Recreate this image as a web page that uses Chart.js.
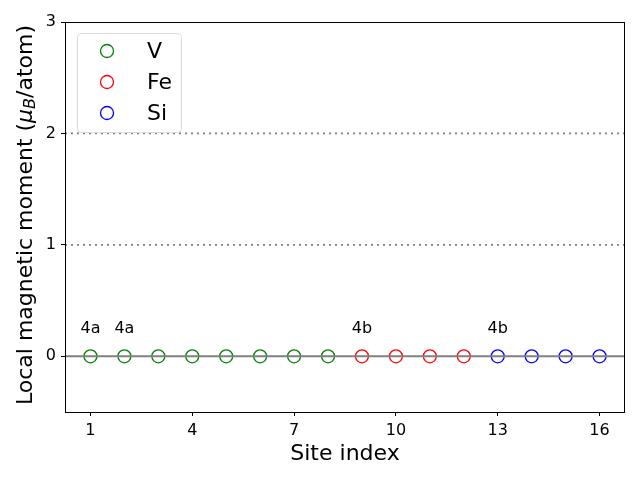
<!DOCTYPE html>
<html>
<head>
<meta charset="utf-8">
<script src="https://cdn.jsdelivr.net/npm/chart.js@4/dist/chart.umd.min.js"></script>
<style>
  html, body { margin: 0; padding: 0; background: #fff; }
  #wrap { width: 640px; height: 480px; }
</style>
</head>
<body>
<div id="wrap"><canvas id="momentChart" width="640" height="480"></canvas></div>
<script>
// data
const vSites = [1, 2, 3, 4, 5, 6, 7, 8];
const vMoments = [0, 0, 0, 0, 0, 0, 0, 0];
const feSites = [9, 10, 11, 12];
const feMoments = [0, 0, 0, 0];
const siSites = [13, 14, 15, 16];
const siMoments = [0, 0, 0, 0];

const xTicks = [1, 4, 7, 10, 13, 16];
const yTicks = [0, 1, 2, 3];
const xRange = [0.25, 16.75];
const yRange = [-0.5, 3];
const refLevels = [0, 1, 2];

const siteLabels = ['4a', '4a', '4b', '4b'];
const siteLabelX = [1, 2, 9, 13];
const siteLabelY = 0.25;

const FONT = '"DejaVu Sans", sans-serif';

const toPoints = (xs, ys) => xs.map((x, i) => ({ x: x, y: ys[i] }));

function refLine(level) {
    return {
        type: 'line',
        label: '_ref' + level,
        data: [{ x: xRange[0], y: level }, { x: xRange[1], y: level }],
        borderColor: '#808080',
        borderWidth: level === 0 ? 2 : 1.8,
        borderDash: level === 0 ? [] : [2, 4],
        pointRadius: 0,
        showLine: true,
        fill: false
    };
}

function siteSeries(label, color, xs, ys) {
    return {
        type: 'scatter',
        label: label,
        data: toPoints(xs, ys),
        borderColor: color,
        backgroundColor: 'rgba(0,0,0,0)',
        borderWidth: 1.3,
        pointRadius: 6.5,
        pointHoverRadius: 6.5,
        pointStyle: 'circle'
    };
}

const series = [
    siteSeries('V', '#008000', vSites, vMoments),
    siteSeries('Fe', '#ff0000', feSites, feMoments),
    siteSeries('Si', '#0000ff', siSites, siMoments)
];

// frame, axis titles, site labels and legend
const decorations = {
    id: 'decorations',
    afterDraw(chart) {
        const ctx = chart.ctx;
        const a = chart.chartArea;
        const xs = chart.scales.x;
        const ys = chart.scales.y;
        ctx.save();

        ctx.strokeStyle = '#000';
        ctx.lineWidth = 1;
        ctx.strokeRect(a.left + 0.5, a.top + 0.5, a.right - a.left - 1, a.bottom - a.top);

        // site labels
        ctx.fillStyle = '#000';
        ctx.font = '16px ' + FONT;
        ctx.textAlign = 'center';
        ctx.textBaseline = 'middle';
        siteLabels.forEach((t, i) => {
            ctx.fillText(t, xs.getPixelForValue(siteLabelX[i]), ys.getPixelForValue(siteLabelY));
        });

        // x title
        ctx.font = '22px ' + FONT;
        ctx.textBaseline = 'middle';
        ctx.fillText('Site index', (a.left + a.right) / 2, 454);

        // y title with italic mu_B
        const parts = [
            { t: 'Local magnetic moment (', f: '22px ' + FONT, dy: 0 },
            { t: '\u03bc', f: 'italic 22px ' + FONT, dy: 0 },
            { t: 'B', f: 'italic 16px ' + FONT, dy: 5 },
            { t: '/atom)', f: '22px ' + FONT, dy: 0 }
        ];
        let total = 0;
        parts.forEach(p => { ctx.font = p.f; p.w = ctx.measureText(p.t).width; total += p.w; });
        ctx.translate(26, 215);
        ctx.rotate(-Math.PI / 2);
        ctx.textAlign = 'left';
        let cx = -total / 2;
        parts.forEach(p => {
            ctx.font = p.f;
            ctx.fillText(p.t, cx, p.dy);
            cx += p.w;
        });
        ctx.setTransform(1, 0, 0, 1, 0, 0);

        // legend
        const lx = 77, ly = 33, lw = 104, lh = 99;
        ctx.beginPath();
        ctx.roundRect(lx + 0.5, ly + 0.5, lw, lh, 4);
        ctx.fillStyle = 'rgba(255,255,255,0.8)';
        ctx.fill();
        ctx.strokeStyle = '#d9d9d9';
        ctx.lineWidth = 1;
        ctx.stroke();
        ctx.font = '22px ' + FONT;
        ctx.textAlign = 'left';
        ctx.textBaseline = 'middle';
        series.forEach((s, i) => {
            const y = 51 + i * 31;
            ctx.beginPath();
            ctx.arc(107, y, 6.5, 0, Math.PI * 2);
            ctx.strokeStyle = s.borderColor;
            ctx.lineWidth = 1.3;
            ctx.stroke();
            ctx.fillStyle = '#000';
            ctx.fillText(s.label, 147, y + 1);
        });

        ctx.restore();
    }
};

new Chart(document.getElementById('momentChart').getContext('2d'), {
    data: {
        datasets: [...refLevels.map(refLine), ...series]
    },
    options: {
        responsive: false,
        animation: false,
        layout: { padding: { top: 22, right: 15, left: 0, bottom: 0 } },
        plugins: {
            legend: { display: false },
            tooltip: { enabled: false }
        },
        scales: {
            x: {
                type: 'linear',
                min: xRange[0],
                max: xRange[1],
                afterBuildTicks: s => { s.ticks = xTicks.map(v => ({ value: v })); },
                afterFit: s => { s.height = 68; },
                grid: { drawOnChartArea: false, color: '#000', tickColor: '#000', tickLength: 4 },
                border: { display: false },
                ticks: { color: '#000', font: { family: FONT, size: 16 }, padding: 5, maxRotation: 0 }
            },
            y: {
                type: 'linear',
                min: yRange[0],
                max: yRange[1],
                afterBuildTicks: s => { s.ticks = yTicks.map(v => ({ value: v })); },
                afterFit: s => { s.width = 65; },
                grid: { drawOnChartArea: false, color: '#000', tickColor: '#000', tickLength: 4 },
                border: { display: false },
                ticks: { color: '#000', font: { family: FONT, size: 16 }, padding: 5 }
            }
        }
    },
    plugins: [decorations]
});
</script>
</body>
</html>
